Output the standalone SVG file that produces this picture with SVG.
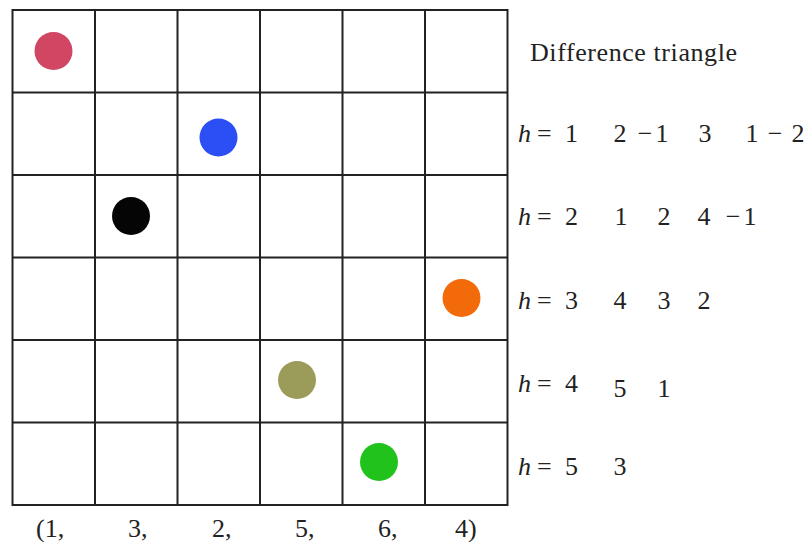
<svg xmlns="http://www.w3.org/2000/svg" width="811" height="542" viewBox="0 0 811 542">
<style>
.g{stroke:#222;stroke-width:2;fill:none}
text{font-family:"Liberation Serif","Times New Roman",serif;font-size:26px;fill:#222}
.m{text-anchor:middle}
.i{font-style:italic}
</style>
<rect width="811" height="542" fill="#fff"/>
<g id="grid" class="g">
<rect x="12.5" y="10" width="495" height="495"/>
<path d="M95 10V505M177.5 10V505M260 10V505M342.5 10V505M425 10V505M12.5 92.5H507.5M12.5 175H507.5M12.5 257.5H507.5M12.5 340H507.5M12.5 422.5H507.5"/>
</g>
<g id="dots">
<circle id="dot-red" cx="53.5" cy="51" r="19" fill="#d04663"/>
<circle id="dot-blue" cx="218.5" cy="137.5" r="19" fill="#2b4ef5"/>
<circle id="dot-black" cx="131" cy="216" r="19" fill="#050505"/>
<circle id="dot-orange" cx="461.5" cy="298" r="19" fill="#f26a0a"/>
<circle id="dot-olive" cx="297" cy="380" r="19" fill="#9b9b5a"/>
<circle id="dot-green" cx="379" cy="462" r="19" fill="#22c21d"/>
</g>
<g id="bottom-labels">
<text x="36" y="537">(1,</text>
<text x="128" y="537">3,</text>
<text x="212" y="537">2,</text>
<text x="295" y="537">5,</text>
<text x="378" y="537">6,</text>
<text x="455" y="537">4)</text>
</g>
<g id="title"><text x="530" y="61" textLength="207" lengthAdjust="spacing">Difference triangle</text></g>
<g id="row-h1">
<text class="i" x="518" y="142">h</text><text x="537" y="142">=</text><text x="565" y="142">1</text>
<text class="m" x="620" y="142">2</text><text class="m" x="645" y="142">−</text><text class="m" x="662" y="142">1</text>
<text class="m" x="705" y="142">3</text><text class="m" x="752" y="142">1</text>
<text class="m" x="775" y="142">−</text><text class="m" x="798" y="142">2</text>
</g>
<g id="row-h2">
<text class="i" x="518" y="225">h</text><text x="537" y="225">=</text><text x="565" y="225">2</text>
<text class="m" x="621" y="225">1</text><text class="m" x="664" y="225">2</text><text class="m" x="704" y="225">4</text>
<text class="m" x="733" y="225">−</text><text class="m" x="750" y="225">1</text>
</g>
<g id="row-h3">
<text class="i" x="518" y="309">h</text><text x="537" y="309">=</text><text x="565" y="309">3</text>
<text class="m" x="620" y="309">4</text><text class="m" x="664" y="309">3</text><text class="m" x="704" y="309">2</text>
</g>
<g id="row-h4">
<text class="i" x="518" y="392">h</text><text x="537" y="392">=</text><text x="565" y="392">4</text>
<text class="m" x="620" y="397">5</text><text class="m" x="664" y="397">1</text>
</g>
<g id="row-h5">
<text class="i" x="518" y="475">h</text><text x="537" y="475">=</text><text x="565" y="475">5</text>
<text class="m" x="620" y="475">3</text>
</g>
</svg>
